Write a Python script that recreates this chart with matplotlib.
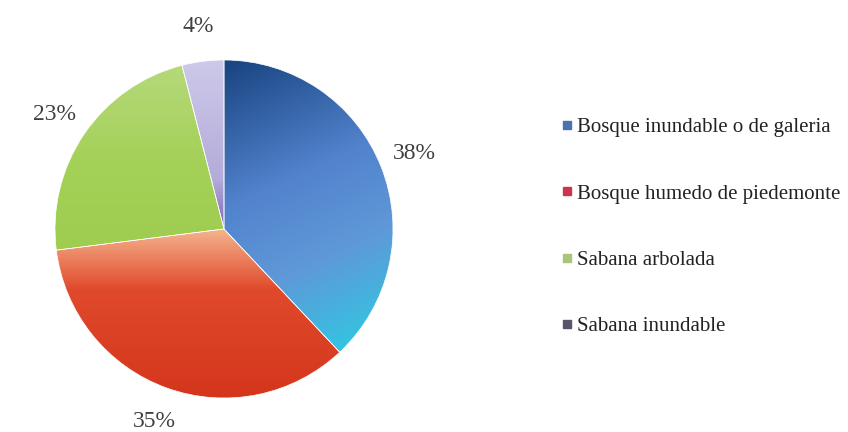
import matplotlib.pyplot as plt
import numpy as np
from matplotlib.colors import LinearSegmentedColormap
from matplotlib.lines import Line2D

# datos del grafico
categorias = ['Bosque inundable o de galeria', 'Bosque humedo de piedemonte',
              'Sabana arbolada', 'Sabana inundable']
porcentajes = [38, 35, 23, 4]
colores_leyenda = ['#4a72b0', '#cc3550', '#aac47a', '#5a5468']

# degradados de cada sector (posicion, color) y direccion en grados
gradientes = [
    [(0, '#123c78'), (0.45, '#5283cd'), (0.7, '#5f98d8'), (1, '#30c8e2')],
    [(0, '#f8cbb0'), (0.5, '#f5b48e'), (0.68, '#e04a2c'), (1, '#d4361c')],
    [(0, '#b6d97c'), (0.3, '#a4d158'), (1, '#93c642')],
    [(0, '#cdc9ea'), (0.35, '#b4acd9'), (0.5, '#8068b4'), (1, '#6a4a9c')],
]
direcciones = [-65, -90, -90, -90]

fig = plt.figure(figsize=(8.48, 4.32), dpi=100)
ax = fig.add_axes([0, 0, 448 / 848, 1])

wedges, texts, autotexts = ax.pie(
    porcentajes, startangle=90, counterclock=False,
    autopct='%1.0f%%', pctdistance=1.21, colors=colores_leyenda,
    wedgeprops=dict(edgecolor='white', linewidth=0.5),
    textprops=dict(family='Liberation Serif', fontsize=17, color='#404040'))

# rellenar cada sector con su degradado
yy, xx = np.mgrid[1:-1:300j, -1:1:300j]
for w, grad, ang in zip(wedges, gradientes, direcciones):
    d = np.deg2rad(ang)
    t = (xx * np.cos(d) + yy * np.sin(d) + 1) / 2
    cmap = LinearSegmentedColormap.from_list('g', grad)
    im = ax.imshow(t, cmap=cmap, vmin=0, vmax=1, extent=(-1, 1, -1, 1),
                   zorder=0.9, interpolation='bilinear')
    im.set_clip_path(w)
    w.set_facecolor('none')

ax.set_aspect('auto')
ax.set_xlim(-224 / 169, 224 / 169)
ax.set_ylim(-203 / 169, 229 / 169)
ax.axis('off')

handles = [Line2D([], [], marker='s', linestyle='none', markersize=5.5,
                  markerfacecolor=c, markeredgecolor=c) for c in colores_leyenda]
fig.legend(handles, categorias, loc='center left',
           bbox_to_anchor=(551 / 848, 1 - 227 / 432), frameon=False,
           prop=dict(family='Liberation Serif', size=15),
           labelcolor='#222222', handlelength=0.5, handletextpad=0.25,
           labelspacing=2.25, borderpad=0)

fig.savefig('out.png', dpi=100)
